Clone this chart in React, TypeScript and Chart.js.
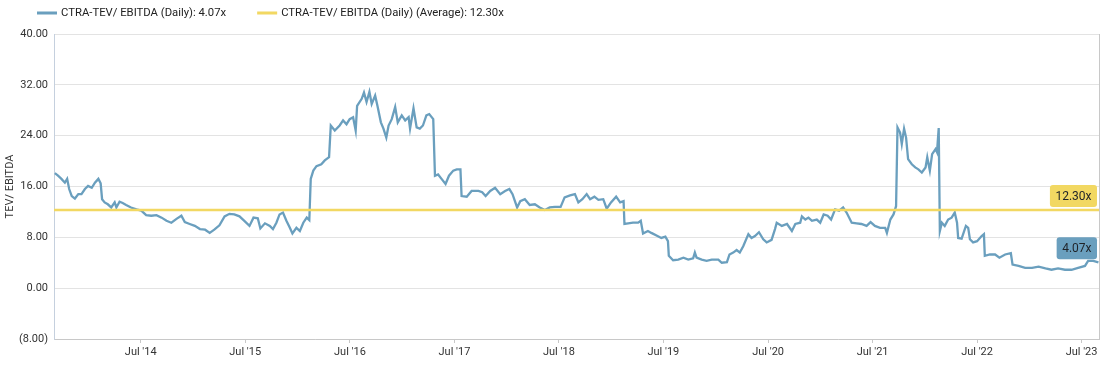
import React, { useEffect, useRef } from "react";
import { Chart, registerables } from "chart.js";

Chart.register(...registerables);

// ---------- data ----------
const dates: string[] = [
  "2013-09-04","2013-09-15","2013-09-27","2013-10-09","2013-10-17","2013-10-24","2013-11-02","2013-11-13","2013-11-25","2013-12-06",
  "2013-12-18","2013-12-29","2014-01-11","2014-01-22","2014-02-03","2014-02-11","2014-02-16","2014-02-25","2014-03-08","2014-03-20",
  "2014-04-01","2014-04-07","2014-04-18","2014-04-29","2014-05-11","2014-05-28","2014-06-16","2014-07-03","2014-07-20","2014-08-07",
  "2014-08-25","2014-09-12","2014-09-29","2014-10-16","2014-11-03","2014-11-20","2014-12-02","2014-12-19","2015-01-06","2015-01-24",
  "2015-02-11","2015-02-27","2015-03-15","2015-04-02","2015-04-20","2015-05-07","2015-05-24","2015-06-11","2015-06-28","2015-07-16",
  "2015-07-30","2015-08-14","2015-08-23","2015-09-08","2015-09-25","2015-10-06","2015-10-18","2015-10-29","2015-11-10","2015-11-22",
  "2015-12-04","2015-12-13","2015-12-27","2016-01-08","2016-01-20","2016-02-01","2016-02-10","2016-02-15","2016-02-24","2016-03-06",
  "2016-03-23","2016-04-04","2016-04-19","2016-04-25","2016-05-09","2016-05-26","2016-06-07","2016-06-19","2016-06-30","2016-07-12",
  "2016-07-21","2016-07-26","2016-08-11","2016-08-19","2016-08-28","2016-09-07","2016-09-15","2016-09-27","2016-10-05","2016-10-17",
  "2016-10-26","2016-11-05","2016-11-13","2016-11-24","2016-12-06","2016-12-15","2016-12-29","2017-01-10","2017-01-22","2017-01-27",
  "2017-02-08","2017-02-19","2017-03-02","2017-03-13","2017-03-25","2017-04-04","2017-04-18","2017-04-24","2017-05-05","2017-05-17",
  "2017-05-31","2017-06-12","2017-06-27","2017-07-09","2017-07-22","2017-07-26","2017-08-13","2017-08-30","2017-09-23","2017-10-06",
  "2017-10-18","2017-11-03","2017-11-20","2017-12-08","2017-12-25","2018-01-09","2018-01-20","2018-02-05","2018-02-16","2018-03-04",
  "2018-03-21","2018-04-08","2018-04-25","2018-05-13","2018-05-30","2018-06-17","2018-07-07","2018-07-21","2018-08-09","2018-08-26",
  "2018-09-07","2018-09-21","2018-10-06","2018-10-18","2018-11-02","2018-11-16","2018-12-03","2018-12-15","2018-12-30","2019-01-17",
  "2019-01-31","2019-02-12","2019-02-15","2019-02-28","2019-03-17","2019-04-04","2019-04-13","2019-04-21","2019-05-08","2019-05-20",
  "2019-06-07","2019-06-24","2019-07-08","2019-07-17","2019-07-20","2019-08-04","2019-08-22","2019-09-09","2019-09-26","2019-10-13",
  "2019-10-19","2019-10-25","2019-11-12","2019-11-29","2019-12-17","2020-01-09","2020-01-21","2020-02-08","2020-02-17","2020-03-01",
  "2020-03-13","2020-03-24","2020-04-05","2020-04-23","2020-05-04","2020-05-16","2020-05-30","2020-06-14","2020-06-26","2020-07-13",
  "2020-07-25","2020-07-31","2020-08-18","2020-09-05","2020-09-22","2020-10-04","2020-10-21","2020-10-27","2020-11-08","2020-11-19",
  "2020-12-01","2020-12-18","2020-12-30","2021-01-11","2021-01-25","2021-02-06","2021-02-20","2021-03-06","2021-03-20","2021-04-01",
  "2021-04-19","2021-05-06","2021-05-23","2021-06-10","2021-06-24","2021-07-09","2021-07-27","2021-08-14","2021-08-20","2021-09-01",
  "2021-09-12","2021-09-21","2021-09-26","2021-10-05","2021-10-11","2021-10-19","2021-10-26","2021-11-02","2021-11-15","2021-11-27",
  "2021-12-08","2021-12-20","2022-01-02","2022-01-08","2022-01-17","2022-01-25","2022-02-06","2022-02-11","2022-02-17","2022-02-21",
  "2022-02-28","2022-03-10","2022-03-22","2022-04-03","2022-04-14","2022-04-22","2022-04-26","2022-05-08","2022-05-23","2022-05-31",
  "2022-06-06","2022-06-17","2022-07-01","2022-07-17","2022-07-25","2022-07-28","2022-08-15","2022-09-02","2022-09-17","2022-10-07",
  "2022-10-27","2022-11-02","2022-11-23","2022-12-16","2023-01-09","2023-02-01","2023-02-25","2023-03-18","2023-04-10","2023-05-04",
  "2023-05-27","2023-06-19","2023-07-13","2023-07-24","2023-08-11","2023-08-29"
];

const values: number[] = [
  18.1,17.7,17.2,16.6,17.2,15.6,14.5,14.1,14.8,14.8,
  15.6,16.1,15.8,16.6,17.2,16.5,14.0,13.5,13.2,12.7,
  13.5,12.7,13.6,13.4,13.1,12.7,12.4,12.2,11.5,11.4,
  11.5,11.1,10.6,10.3,10.9,11.4,10.4,10.1,9.8,9.3,
  9.2,8.7,9.2,9.9,11.3,11.7,11.6,11.3,10.6,9.8,
  11.1,11.0,9.4,10.2,9.8,9.3,10.3,11.6,11.9,10.6,
  9.5,8.6,9.5,9.0,10.3,11.1,10.7,17.2,18.5,19.2,
  19.5,20.1,20.6,25.6,24.8,25.6,26.4,25.8,26.6,26.9,
  24.8,28.7,29.8,30.8,29.3,30.9,29.0,30.3,28.7,26.1,
  25.1,23.7,25.6,26.6,28.5,26.1,27.2,26.4,26.9,25.1,
  28.3,25.3,25.1,25.6,27.2,27.4,26.6,17.7,17.9,17.2,
  16.4,17.7,18.5,18.7,18.7,14.5,14.4,15.3,15.3,15.1,
  14.5,15.3,15.8,14.8,15.3,15.6,14.8,12.7,13.7,14.0,
  13.1,13.2,12.7,12.3,12.7,12.8,12.8,14.3,14.6,14.8,
  13.5,14.0,14.8,14.0,14.4,13.9,14.0,12.5,13.5,14.4,
  13.5,13.7,10.1,10.2,10.3,10.3,10.6,8.6,9.0,8.7,
  8.3,7.9,8.1,7.4,5.1,4.4,4.5,4.8,4.5,4.7,
  5.6,4.8,4.5,4.3,4.5,4.5,4.0,4.1,5.3,5.6,
  6.0,5.6,6.6,8.5,7.9,8.2,8.8,7.7,7.2,7.6,
  9.3,10.3,9.8,10.1,9.0,10.1,10.3,11.3,10.8,11.1,
  10.6,10.8,10.3,11.6,11.4,10.8,12.4,12.2,12.7,11.9,
  10.3,10.2,10.1,9.8,10.4,9.8,9.5,9.5,8.7,10.8,
  11.6,12.9,25.3,24.5,22.7,25.1,23.7,20.3,19.5,19.0,
  18.7,18.2,19.0,20.6,18.5,21.1,21.9,21.4,25.2,9.0,
  10.3,9.8,10.8,11.1,11.9,10.3,7.9,7.8,9.8,9.5,
  7.7,7.2,7.4,8.2,8.5,5.1,5.3,5.3,4.8,5.3,
  5.5,3.7,3.5,3.2,3.2,3.4,3.1,2.9,3.1,2.9,
  2.9,3.2,3.5,4.3,4.3,4.07
];

const averageValue = 12.3;
const rangeStart = "2013-09-01";
const rangeEnd = "2023-08-31";
const xTickDates: string[] = [
  "2014-07-01","2015-07-01","2016-07-01","2017-07-01","2018-07-01",
  "2019-07-01","2020-07-01","2021-07-01","2022-07-01","2023-07-01"
];
const xTickLabels: string[] = [
  "Jul '14","Jul '15","Jul '16","Jul '17","Jul '18",
  "Jul '19","Jul '20","Jul '21","Jul '22","Jul '23"
];
const yMin = -8;
const yMax = 40;
const yStep = 8;
const seriesLabel = "CTRA-TEV/ EBITDA (Daily)";
const averageLabel = "CTRA-TEV/ EBITDA (Daily) (Average)";
const yTitle = "TEV/ EBITDA";

// ---------- styles ----------
const BLUE = "#6a9fbe";
const YELLOW = "#f2d862";
const TEXT = "#333333";
const FONT = "Roboto, 'Noto Sans', 'DejaVu Sans', sans-serif";

const fmtX = (v: number) => `${v.toFixed(2)}x`;

const overlayPlugin = {
  id: "overlay",
  afterDraw(chart: any) {
    const { ctx, chartArea, scales } = chart;
    const latest = values[values.length - 1];
    ctx.save();

    // right border
    ctx.strokeStyle = "#c8c8c8";
    ctx.lineWidth = 1;
    ctx.beginPath();
    ctx.moveTo(Math.round(chartArea.right) + 0.5, chartArea.top);
    ctx.lineTo(Math.round(chartArea.right) + 0.5, chartArea.bottom);
    ctx.stroke();

    // legend
    ctx.font = `11.3px ${FONT}`;
    ctx.textBaseline = "middle";
    ctx.textAlign = "left";
    const items = [
      { color: BLUE, text: `${seriesLabel}: ${fmtX(latest)}` },
      { color: YELLOW, text: `${averageLabel}: ${fmtX(averageValue)}` },
    ];
    let lx = 37;
    const ly = 13;
    items.forEach((it) => {
      ctx.fillStyle = it.color;
      ctx.fillRect(lx, ly - 1.5, 20, 3);
      ctx.fillStyle = "#222222";
      ctx.fillText(it.text, lx + 24, ly);
      lx = lx + 24 + ctx.measureText(it.text).width + 31;
    });

    // value tags at right edge
    const tag = (value: number, text: string, fill: string) => {
      const y = scales.y.getPixelForValue(value);
      ctx.font = `12px ${FONT}`;
      const w = ctx.measureText(text).width + 11;
      const h = 22;
      const right = chartArea.right - 2;
      const bottom = y - 3;
      const x0 = right - w;
      const y0 = bottom - h;
      ctx.fillStyle = fill;
      ctx.beginPath();
      (ctx as any).roundRect(x0, y0, w, h, 3);
      ctx.fill();
      ctx.fillStyle = "#1f2328";
      ctx.textAlign = "center";
      ctx.textBaseline = "middle";
      ctx.fillText(text, x0 + w / 2, y0 + h / 2 + 0.5);
    };
    tag(averageValue, fmtX(averageValue), YELLOW);
    tag(latest, fmtX(latest), BLUE);

    ctx.restore();
  },
};

export default function App() {
  const canvasRef = useRef<HTMLCanvasElement | null>(null);

  useEffect(() => {
    if (!canvasRef.current) return;
    Chart.defaults.font.family = FONT;
    const start = Date.parse(rangeStart);
    const end = Date.parse(rangeEnd);
    const yTicks: number[] = [];
    for (let v = yMin; v <= yMax; v += yStep) yTicks.push(v);

    const chart = new Chart(canvasRef.current, {
      type: "line",
      data: {
        datasets: [
          {
            label: averageLabel,
            data: [
              { x: start, y: averageValue },
              { x: end, y: averageValue },
            ],
            borderColor: YELLOW,
            backgroundColor: YELLOW,
            borderWidth: 2.5,
            pointRadius: 0,
            order: 0,
          },
          {
            label: seriesLabel,
            data: dates.map((d, i) => ({ x: Date.parse(d), y: values[i] })),
            borderColor: BLUE,
            backgroundColor: BLUE,
            borderWidth: 2.3,
            pointRadius: 0,
            tension: 0,
            order: 1,
          },
        ],
      },
      options: {
        animation: false,
        responsive: false,
        devicePixelRatio: 1,
        layout: { padding: { top: 34, right: 8, left: 0, bottom: 0 } },
        plugins: {
          legend: { display: false },
          tooltip: { enabled: false },
        },
        scales: {
          x: {
            type: "linear",
            min: start,
            max: end,
            afterBuildTicks: (scale: any) => {
              scale.ticks = xTickDates.map((d) => ({ value: Date.parse(d) }));
            },
            afterFit: (scale: any) => {
              scale.height = 27;
            },
            ticks: {
              autoSkip: false,
              maxRotation: 0,
              padding: 3,
              color: TEXT,
              font: { size: 11, family: FONT },
              callback: (_v: any, i: number) => xTickLabels[i],
            },
            grid: {
              display: true,
              drawOnChartArea: false,
              drawTicks: true,
              tickLength: 4,
              color: "#c8c8c8",
            },
            border: { display: true, color: "#c8c8c8", width: 1 },
          },
          y: {
            type: "linear",
            min: yMin,
            max: yMax,
            afterBuildTicks: (scale: any) => {
              scale.ticks = yTicks.map((v) => ({ value: v }));
            },
            afterFit: (scale: any) => {
              scale.width = 54;
            },
            ticks: {
              padding: 6,
              color: TEXT,
              font: { size: 11, family: FONT },
              callback: (v: any) => {
                const n = Number(v);
                return n < 0 ? `(${Math.abs(n).toFixed(2)})` : n.toFixed(2);
              },
            },
            grid: {
              color: "#e3e3e3",
              drawTicks: false,
            },
            border: { display: true, color: "#c5d0de", width: 1 },
            title: {
              display: true,
              text: yTitle,
              color: TEXT,
              font: { size: 11, family: FONT },
              padding: { top: 4, bottom: 0 },
            },
          },
        },
      },
      plugins: [overlayPlugin],
    });
    return () => chart.destroy();
  }, []);

  return (
    <canvas
      ref={canvasRef}
      width={1107}
      height={366}
      style={{ position: "fixed", left: 0, top: 0, display: "block" }}
    />
  );
}
